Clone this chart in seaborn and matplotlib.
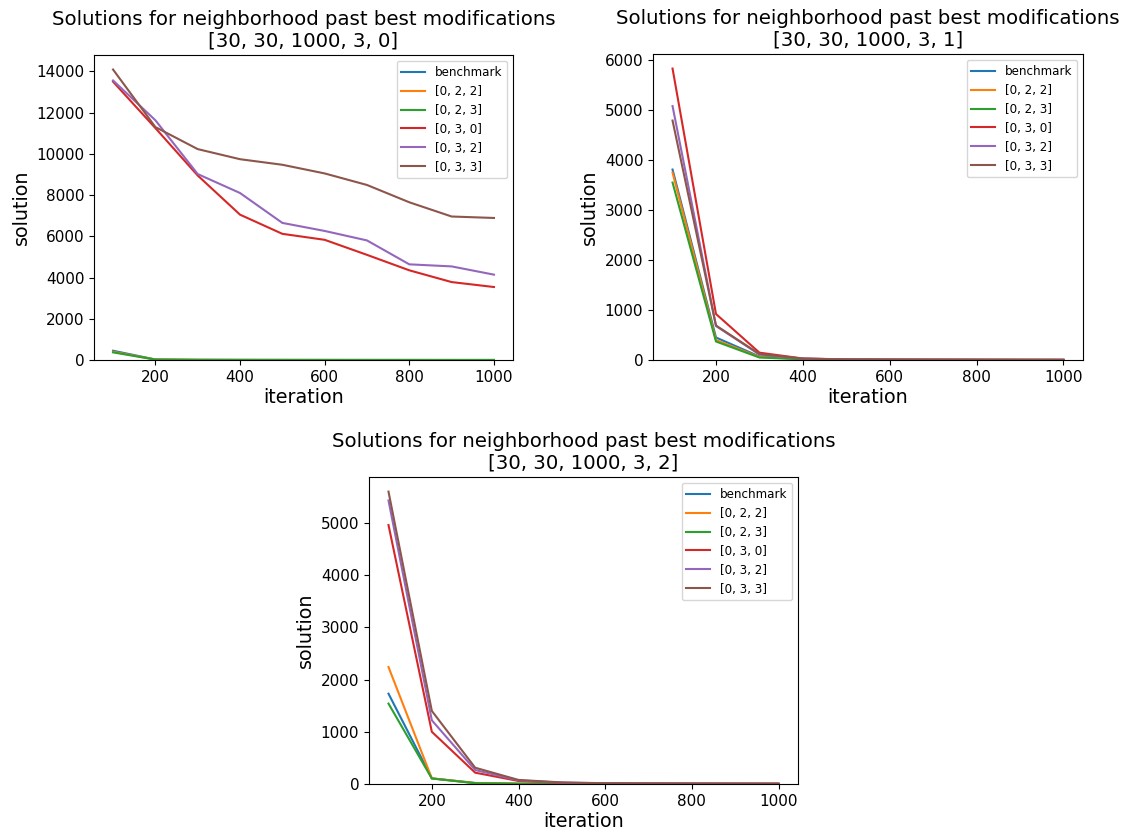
import matplotlib
matplotlib.use("Agg")
import matplotlib.pyplot as plt
import seaborn as sns
import pandas as pd

iterations = [100, 200, 300, 400, 500, 600, 700, 800, 900, 1000]
series_names = ["benchmark", "[0, 2, 2]", "[0, 2, 3]", "[0, 3, 0]", "[0, 3, 2]", "[0, 3, 3]"]
configs = ["[30, 30, 1000, 3, 0]", "[30, 30, 1000, 3, 1]", "[30, 30, 1000, 3, 2]"]

# config [30, 30, 1000, 3, 0]
c0_benchmark = [450, 25, 10, 6, 4, 3, 2, 2, 1, 1]
c0_022 = [400, 22, 9, 5, 4, 3, 2, 2, 1, 1]
c0_023 = [370, 20, 8, 5, 3, 2, 2, 1, 1, 1]
c0_030 = [13500, 11250, 8950, 7050, 6120, 5830, 5100, 4350, 3780, 3540]
c0_032 = [13560, 11630, 9020, 8100, 6650, 6260, 5800, 4640, 4540, 4140]
c0_033 = [14090, 11300, 10230, 9740, 9470, 9050, 8490, 7650, 6960, 6890]

# config [30, 30, 1000, 3, 1]
c1_benchmark = [3810, 450, 70, 20, 8, 5, 4, 3, 2, 2]
c1_022 = [3750, 400, 60, 18, 7, 5, 4, 3, 2, 2]
c1_023 = [3550, 370, 50, 15, 6, 4, 3, 2, 2, 2]
c1_030 = [5830, 920, 147, 30, 12, 8, 6, 5, 4, 3]
c1_032 = [5080, 680, 110, 28, 11, 7, 6, 5, 4, 3]
c1_033 = [4790, 690, 120, 28, 11, 7, 6, 5, 4, 3]

# config [30, 30, 1000, 3, 2]
c2_benchmark = [1730, 108, 20, 6, 4, 3, 2, 2, 1, 1]
c2_022 = [2240, 108, 18, 6, 4, 3, 2, 2, 1, 1]
c2_023 = [1540, 105, 15, 5, 3, 3, 2, 2, 1, 1]
c2_030 = [4960, 1000, 217, 58, 22, 12, 9, 7, 6, 5]
c2_032 = [5430, 1220, 268, 70, 26, 14, 10, 8, 7, 6]
c2_033 = [5600, 1400, 312, 78, 30, 15, 11, 9, 8, 7]

all_data = [
    [c0_benchmark, c0_022, c0_023, c0_030, c0_032, c0_033],
    [c1_benchmark, c1_022, c1_023, c1_030, c1_032, c1_033],
    [c2_benchmark, c2_022, c2_023, c2_030, c2_032, c2_033],
]

plt.style.use("default")
plt.rcParams["font.family"] = ["DejaVu Sans"]
palette = sns.color_palette("tab10", 6)

fig = plt.figure(figsize=(11.23, 8.3), dpi=100)
W, H = 1123, 830
boxes = [(94, 513, 55, 360), (653, 1083, 54, 360), (369, 798, 477, 784)]

for cfg, data, (l, r, t, b) in zip(configs, all_data, boxes):
    ax = fig.add_axes([l / W, 1 - b / H, (r - l) / W, (b - t) / H])
    rows = []
    for name, vals in zip(series_names, data):
        for it, v in zip(iterations, vals):
            rows.append({"iteration": it, "solution": v, "series": name})
    df = pd.DataFrame(rows)
    sns.lineplot(data=df, x="iteration", y="solution", hue="series",
                 hue_order=series_names, palette=palette, ax=ax, linewidth=1.5)
    ax.set_ylim(bottom=0)
    ax.set_title("Solutions for neighborhood past best modifications\n" + cfg, fontsize=14.2)
    ax.set_xlabel("iteration", fontsize=13.8, labelpad=2)
    ax.set_ylabel("solution", fontsize=13.8)
    ax.tick_params(labelsize=11)
    handles, labels = ax.get_legend_handles_labels()
    ax.legend(handles, labels, loc="upper right", fontsize=8.6)

fig.savefig("out.png", dpi=100)
